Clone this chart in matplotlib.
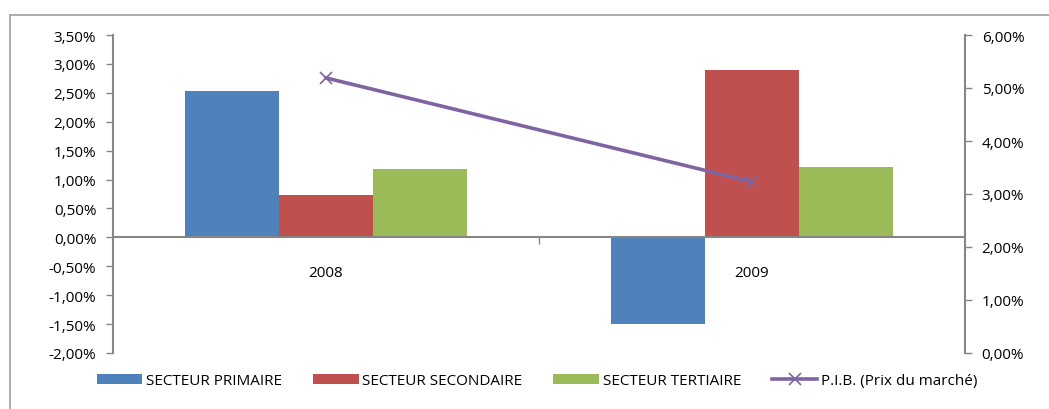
import matplotlib
matplotlib.use("Agg")
import matplotlib.pyplot as plt
import numpy as np
from matplotlib.ticker import FuncFormatter, FixedLocator
from matplotlib.lines import Line2D

years = ["2008", "2009"]
primaire = [2.53, -1.50]
secondaire = [0.73, 2.89]
tertiaire = [1.18, 1.21]
pib = [5.19, 3.23]
series_names = ["SECTEUR PRIMAIRE", "SECTEUR SECONDAIRE", "SECTEUR TERTIAIRE", "P.I.B. (Prix du marché)"]
colors = ["#4F81BD", "#C0504D", "#9BBB59", "#8064A2"]

plt.rcParams['font.family'] = ['Open Sans', 'DejaVu Sans']
gray = "#868686"

fig = plt.figure(figsize=(10.49, 4.10), dpi=100)
ax = fig.add_axes([113/1049, 1-354/410, (965-113)/1049, (354-36)/410])
ax2 = ax.twinx()

x = np.arange(len(years))
w = 0.22
b1 = ax.bar(x - w, primaire, w, color=colors[0], label=series_names[0])
b2 = ax.bar(x, secondaire, w, color=colors[1], label=series_names[1])
b3 = ax.bar(x + w, tertiaire, w, color=colors[2], label=series_names[2])
l, = ax2.plot(x, pib, color=colors[3], lw=2.6, marker='x', ms=9, mew=1.2, label=series_names[3])

ax.set_xlim(-0.5, 1.5)
ax.set_ylim(-2.0, 3.5)
ax2.set_ylim(0, 6)
ax.set_yticks(np.arange(-2.0, 3.51, 0.5))
ax2.set_yticks(np.arange(0, 6.01, 1))
fmt = FuncFormatter(lambda v, p: ("%.2f%%" % v).replace(".", ","))
ax.yaxis.set_major_formatter(fmt)
ax2.yaxis.set_major_formatter(fmt)

for a in (ax, ax2):
    a.spines['top'].set_visible(False)
    for s in a.spines.values():
        s.set_color(gray)
        s.set_linewidth(1.5)
ax.spines['right'].set_visible(False)
ax2.spines['left'].set_visible(False)
ax2.spines['bottom'].set_visible(False)
ax.spines['bottom'].set_position(('data', 0))

ax.set_xticks(x)
ax.set_xticklabels(years)
ax.tick_params(axis='x', length=0, pad=20, labelsize=11)
ax.xaxis.set_minor_locator(FixedLocator([0.5]))
ax.tick_params(axis='x', which='minor', length=5, color=gray, width=1)
ax.tick_params(axis='y', length=5, color=gray, width=1, pad=7, labelsize=11)
ax2.tick_params(axis='y', length=5, color=gray, width=1, pad=7, labelsize=11)
ax.set_zorder(ax2.get_zorder() - 1)
ax2.patch.set_visible(False)

fig.legend(handles=[b1, b2, b3, l], labels=series_names, loc='center',
           bbox_to_anchor=(0.512, 1 - 382/410), ncol=4, frameon=False,
           fontsize=11, handlelength=3.0, handleheight=0.6, handletextpad=0.25,
           columnspacing=2.0)

fig.add_artist(Line2D([10/1049, 10/1049], [0, 1 - 16/410], transform=fig.transFigure, color="#a0a0a0", lw=1.2))
fig.add_artist(Line2D([10/1049, 1], [1 - 16/410, 1 - 16/410], transform=fig.transFigure, color="#a0a0a0", lw=1.2))

fig.savefig("out.png", dpi=100)
